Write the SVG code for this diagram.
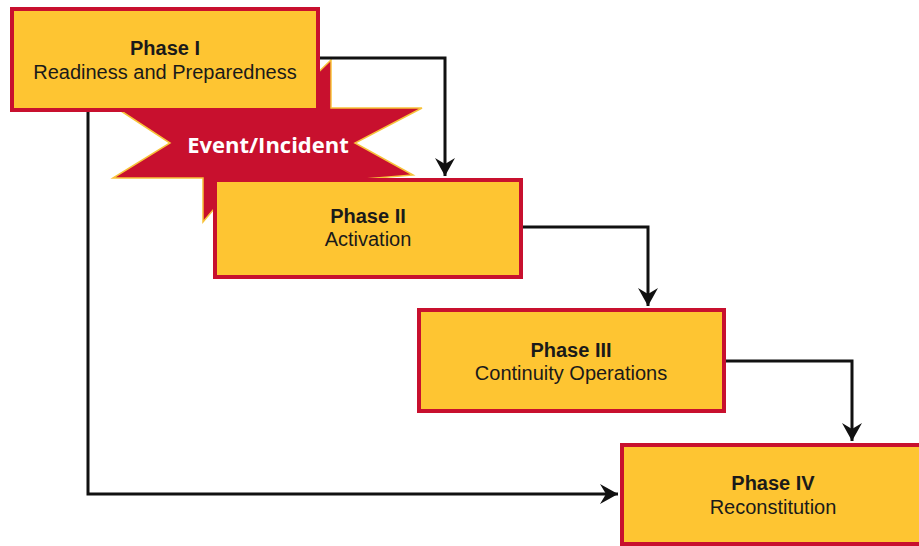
<svg xmlns="http://www.w3.org/2000/svg" width="919" height="546" viewBox="0 0 919 546">
  <style>
    .box { fill: #FEC532; stroke: #C8102E; stroke-width: 4; }
    .title { font-family: "Liberation Sans", Arial, sans-serif; font-size: 20px; font-weight: bold; fill: #1a1a1a; text-anchor: middle; }
    .sub { font-family: "Liberation Sans", Arial, sans-serif; font-size: 20px; fill: #1a1a1a; text-anchor: middle; }
    .conn { fill: none; stroke: #111; stroke-width: 3; }
    .burst { fill: #C8102E; stroke: #F7C23A; stroke-width: 1.5; stroke-linejoin: miter; }
    .burst-label { font-family: "Open Sans", "Noto Sans", sans-serif; font-size: 22px; font-weight: bold; fill: #ffffff; text-anchor: middle; }
  </style>
  <defs>
    <marker id="arrow" viewBox="-20 -11 21 22" refX="0" refY="0" markerWidth="21" markerHeight="22" markerUnits="userSpaceOnUse" orient="auto">
      <path d="M0,0 L-18,-10 L-12,0 L-18,10 Z" fill="#111"/>
    </marker>
  </defs>

  <rect width="919" height="546" fill="#ffffff"/>

  <!-- Event/Incident starburst, drawn behind the phase boxes -->
  <g id="event-incident">
    <polygon class="burst" points="118,109 170,143 113,178 203,178 203,222 230,190 413,175 355,143 422,108 331,108 331,60 300,90"/>
    <text class="burst-label" x="268" y="153">Event/Incident</text>
  </g>

  <!-- connectors -->
  <g id="connectors">
    <path class="conn" d="M320,58 H445 V176" marker-end="url(#arrow)"/>
    <path class="conn" d="M523,227 H648 V306" marker-end="url(#arrow)"/>
    <path class="conn" d="M726,361 H852 V441" marker-end="url(#arrow)"/>
    <path class="conn" d="M88,112 V494 H618" marker-end="url(#arrow)"/>
  </g>

  <g id="phase-1">
    <rect class="box" x="12" y="9" width="306" height="101"/>
    <text class="title" x="165" y="55">Phase I</text>
    <text class="sub" x="165" y="79">Readiness and Preparedness</text>
  </g>

  <g id="phase-2">
    <rect class="box" x="215" y="180" width="306" height="97"/>
    <text class="title" x="368" y="223">Phase II</text>
    <text class="sub" x="368" y="246">Activation</text>
  </g>

  <g id="phase-3">
    <rect class="box" x="419" y="310" width="305" height="101"/>
    <text class="title" x="571" y="357">Phase III</text>
    <text class="sub" x="571" y="380">Continuity Operations</text>
  </g>

  <g id="phase-4">
    <rect class="box" x="622" y="445" width="302" height="99"/>
    <text class="title" x="773" y="490">Phase IV</text>
    <text class="sub" x="773" y="514">Reconstitution</text>
  </g>
</svg>
